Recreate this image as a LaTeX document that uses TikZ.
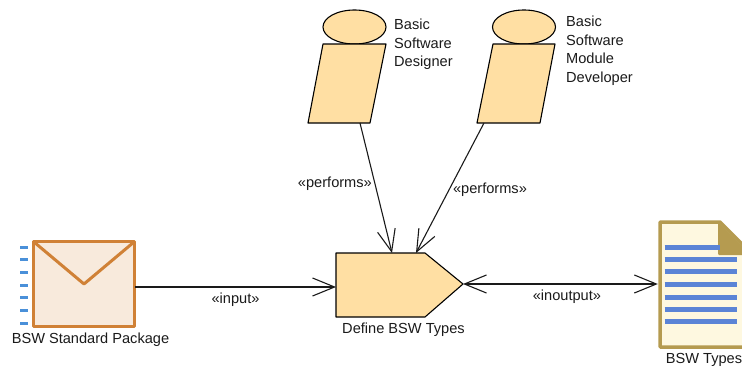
\documentclass[tikz,border=0pt]{standalone}
\usepackage{fontspec}
\setmainfont{Liberation Sans}
\usetikzlibrary{arrows.meta}
\definecolor{actorfill}{HTML}{FFDFA3}
\definecolor{pkgline}{HTML}{D08136}
\definecolor{pkgfill}{HTML}{F8EADC}
\definecolor{tickblue}{HTML}{4A90D9}
\definecolor{docline}{HTML}{B59B50}
\definecolor{docfill}{HTML}{FEF8E0}
\definecolor{docblue}{HTML}{5B84D6}
\definecolor{inkgray}{HTML}{1A1A1A}
\tikzset{
  shapeline/.style={draw=black,line width=1.1pt,fill=actorfill,line join=round},
  conn/.style={draw=inkgray,line width=1.1pt},
  barb/.style={>={Straight Barb[length=22pt,width=18pt,line width=1.1pt]}},
  lbl/.style={font=\fontsize{14.6}{18.5}\selectfont,text=inkgray,inner sep=0pt},
  lblleft/.style={lbl,align=left,anchor=north west}
}
\begin{document}
\begin{tikzpicture}[x=1pt,y=-1pt]
        \useasboundingbox (0,0) rectangle (742,367);

        % actors
        \draw [shapeline] (354.5,27) ellipse [x radius=31.5,y radius=17];
        \draw [shapeline] (323,44) -- (386,44) -- (370,123) -- (308,123) -- cycle;
        \draw [shapeline] (524,27) ellipse [x radius=31.5,y radius=17];
        \draw [shapeline] (493,44) -- (555,44) -- (540,123) -- (477,123) -- cycle;
        \node [lblleft] (designerlbl) at (394,19) {Basic\\Software\\Designer};
        \node [lblleft] (developerlbl) at (566,16) {Basic\\Software\\Module\\Developer};
        \coordinate (designerfoot) at (360,123);
        \coordinate (developerfoot) at (484,123);

        % package
        \node [draw=pkgline,fill=pkgfill,line width=3pt,line join=round,minimum width=101pt,minimum height=85pt,inner sep=0pt] (stdpkg) at (84,284) {};
        \draw [pkgline,line width=3pt,line join=round,line cap=round] (34,242) -- (84,284) -- (134,242);
        \foreach \y in {247,259.7,272.4,285,297.7,310.4,323}
            {\draw [tickblue,line width=3pt] (20,\y) -- (28,\y);}
        \node [lbl] (stdpkglbl) at (90.5,340) {BSW Standard Package};
        \coordinate (stdpkgout) at (135,287);

        % task
        \draw [shapeline] (336,253) -- (425,253) -- (463,284) -- (425,317) -- (336,317) -- cycle;
        \node [lbl] (tasklbl) at (403.5,330) {Define BSW Types};
        \coordinate (taskin) at (336,287);
        \coordinate (tasktip) at (463,284);
        \coordinate (tasktopa) at (392,253);
        \coordinate (tasktopb) at (416,253);

        % document
        \draw [draw=docline,fill=docfill,line width=3.5pt,line join=round] (660,222) -- (720,222) -- (745,247) -- (745,347) -- (660,347) -- cycle;
        \fill [docline,rounded corners=1pt] (718,222) -- (745,249) -- (745,255) -- (718,255) -- cycle;
        \node [inner sep=0pt,minimum width=4pt,minimum height=127pt] (doc) at (660,284) {};
        \draw [docblue,line width=5pt] (664.5,247) -- (720,247);
        \foreach \y in {259.5,271.5,284,297,309.5,321.5}
            {\draw [docblue,line width=5pt] (664.5,\y) -- (737,\y);}
        \node [lbl] (doclbl) at (704,360) {BSW Types};

        % connectors
        \draw [conn,barb,->] (designerfoot) -- (tasktopa) node [lbl,pos=0.45,xshift=-39.5pt,yshift=-2pt] (performsa) {«performs»};
        \draw [conn,barb,->] (developerfoot) -- (tasktopb) node [lbl,pos=0.5,xshift=40pt,yshift=-2pt] (performsb) {«performs»};
        \draw [conn,barb,->] (stdpkgout) -- (taskin) node [lbl,midway,yshift=-13pt] (inputlbl) {«input»};
        \draw [conn,barb,<->] (tasktip) -- (doc.west) node [lbl,midway,yshift=-13pt,xshift=6.5pt] (inoutputlbl) {«inoutput»};
\end{tikzpicture}
\end{document}
